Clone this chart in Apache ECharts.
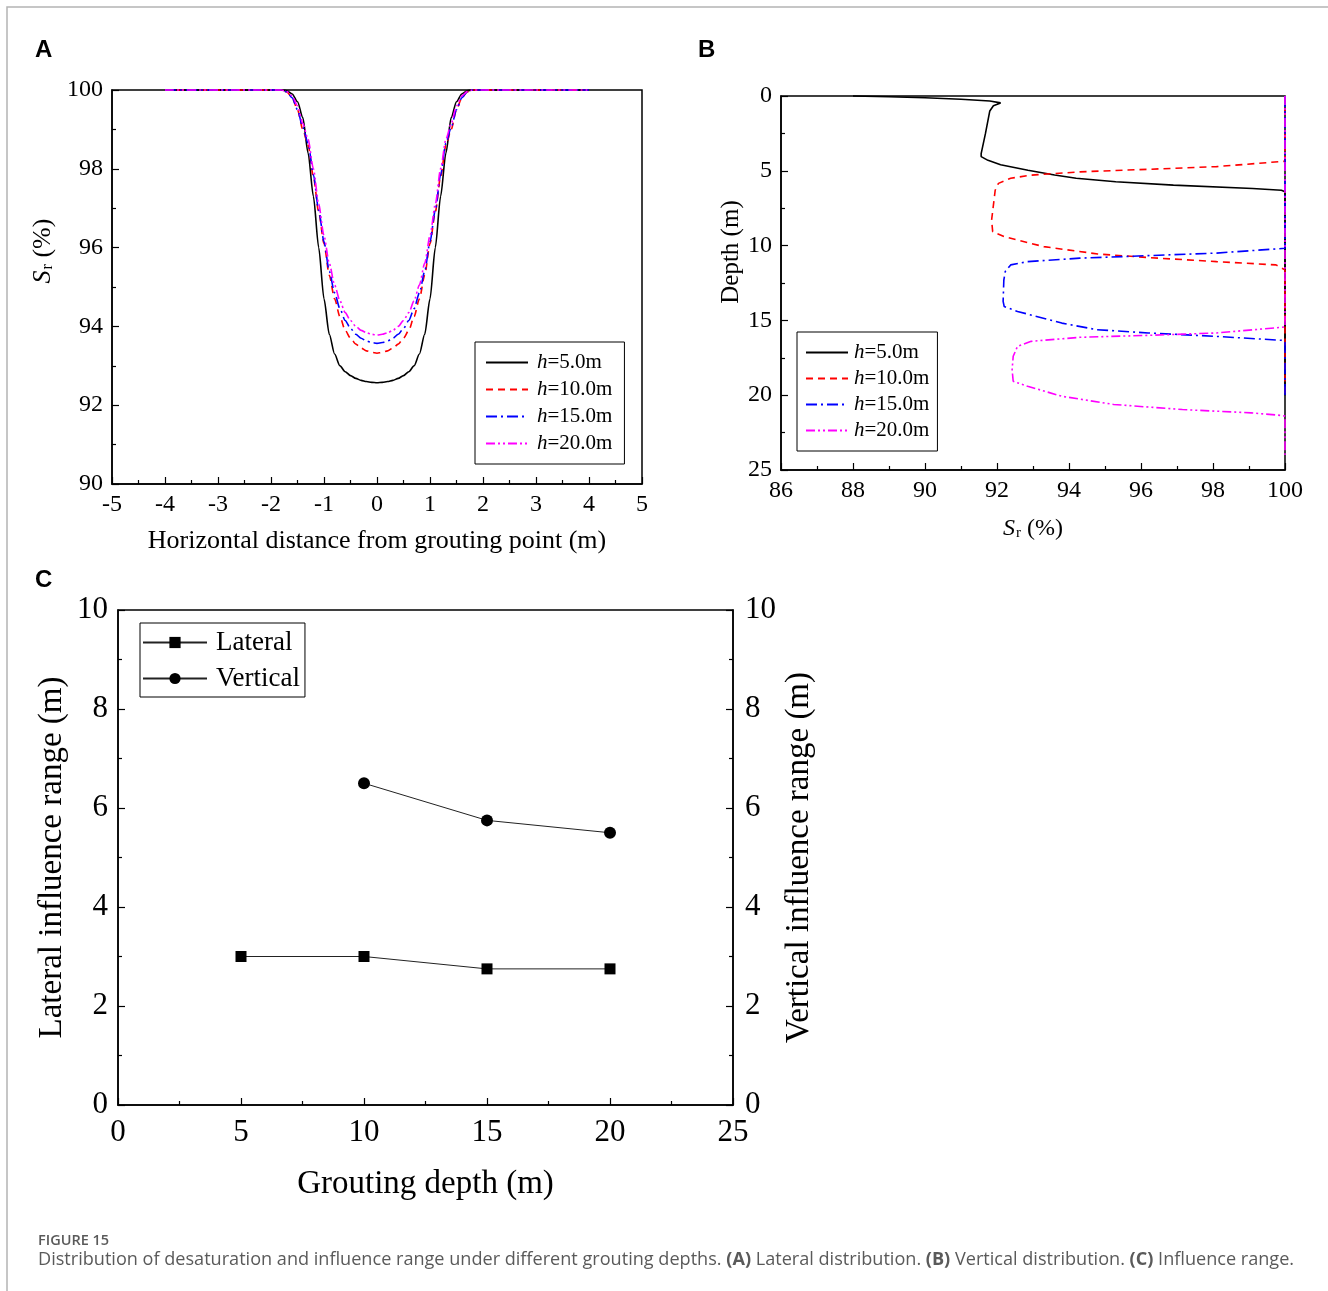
<!DOCTYPE html>
<html><head><meta charset="utf-8">
<script src="https://cdn.jsdelivr.net/npm/echarts@6/dist/echarts.min.js"></script>
<style>html,body{margin:0;padding:0;background:#fff}#c{width:1328px;height:1291px}</style>
</head><body><div id="c"></div>
<script>
// ---------- Panel A: lateral distribution ----------
const xA = [-4,-3,-2,-1.8,-1.7,-1.6,-1.5,-1.4,-1.3,-1.2,-1.1,-1.0,-0.9,-0.8,-0.7,-0.6,-0.5,-0.4,-0.3,-0.2,-0.1,0,
            0.1,0.2,0.3,0.4,0.5,0.6,0.7,0.8,0.9,1.0,1.1,1.2,1.3,1.4,1.5,1.6,1.7,1.8,2,3,4];
const srA_h5  = [100,100,100,100,99.98,99.9,99.7,99.3,98.4,97.3,96.0,94.7,93.8,93.3,93.0,92.85,92.75,92.68,92.63,92.6,92.58,92.57,
                 92.58,92.6,92.63,92.68,92.75,92.85,93.0,93.3,93.8,94.7,96.0,97.3,98.4,99.3,99.7,99.9,99.98,100,100,100,100];
const srA_h10 = [100,100,100,100,99.95,99.8,99.5,99.0,98.6,97.8,96.9,96.1,95.3,94.7,94.25,93.9,93.7,93.55,93.45,93.38,93.34,93.32,
                 93.34,93.38,93.45,93.55,93.7,93.9,94.25,94.7,95.3,96.1,96.9,97.8,98.6,99.0,99.5,99.8,99.95,100,100,100,100];
const srA_h15 = [100,100,100,100,99.95,99.8,99.5,99.05,98.65,97.85,96.95,96.15,95.4,94.85,94.45,94.15,93.95,93.8,93.7,93.63,93.59,93.57,
                 93.59,93.63,93.7,93.8,93.95,94.15,94.45,94.85,95.4,96.15,96.95,97.85,98.65,99.05,99.5,99.8,99.95,100,100,100,100];
const srA_h20 = [100,100,100,100,99.96,99.85,99.6,99.15,98.75,98.0,97.1,96.3,95.6,95.05,94.65,94.35,94.15,94.0,93.9,93.84,93.8,93.78,
                 93.8,93.84,93.9,94.0,94.15,94.35,94.65,95.05,95.6,96.3,97.1,98.0,98.75,99.15,99.6,99.85,99.96,100,100,100,100];

// ---------- Panel B: vertical distribution [Sr, depth] ----------
const profB_h5  = [[88,0],[89,0.05],[90,0.12],[91,0.22],[91.8,0.33],[92.1,0.46],[91.9,0.65],[91.8,1.0],[91.68,2.5],[91.56,3.85],
                   [91.56,4.05],[91.75,4.3],[92.1,4.6],[92.86,4.96],[93.6,5.28],[94.2,5.5],[95.3,5.73],[96.9,5.96],[99.1,6.18],
                   [99.9,6.3],[100,6.4],[100,20]];
const profB_h10 = [[100,0],[100,4.36],[98.1,4.72],[96.2,4.9],[94.3,5.07],[92.95,5.29],[92.38,5.5],[92.04,5.84],[91.95,6.3],
                   [91.85,8.3],[91.88,9.07],[92.2,9.4],[93.3,10.07],[94.8,10.56],[96.2,10.8],[98.1,11.07],[99.75,11.29],
                   [100,11.62],[100,20]];
const profB_h15 = [[100,0],[100,10.18],[98.1,10.5],[96.2,10.67],[94.3,10.84],[92.85,11.07],[92.38,11.29],[92.23,11.73],
                   [92.19,12.3],[92.17,13.73],[92.2,14.07],[92.57,14.4],[93.8,15.18],[94.77,15.62],[96.2,15.84],[98.1,16.07],
                   [99.9,16.33],[100,16.4],[100,20]];
const profB_h20 = [[100,0],[100,15.44],[98.1,15.84],[96.2,16.0],[94.3,16.13],[92.95,16.4],[92.57,16.73],[92.45,17.4],
                   [92.42,18.3],[92.45,19.07],[92.85,19.4],[93.8,20.07],[95.24,20.62],[97.15,20.96],[99.06,21.18],
                   [99.93,21.36],[100,21.4],[100,24]];

// ---------- Panel C: influence range ----------
const depthC    = [5, 10, 15, 20];
const lateralC  = [3, 3, 2.75, 2.75];
const verticalC = [null, 6.5, 5.75, 5.5];

const legendLabels = ['5.0m', '10.0m', '15.0m', '20.0m'];

// ---------- styling ----------
const SERIF = '"Liberation Serif","Times New Roman",serif';
const SANS = '"Liberation Sans",Arial,sans-serif';
const colors = ['#000000', '#ff0000', '#0000ff', '#ff00ff'];
const dashes = ['solid', [7, 5], [11, 4, 2, 4], [9, 3, 2, 3, 2, 3]];

function axis(o) {
  const fs = o.fs || 24;
  const nfs = o.nfs || fs;
  return Object.assign({
    type: 'value',
    axisLine: { show: true, onZero: false, lineStyle: { color: '#000', width: 1.5 } },
    axisTick: { show: true, inside: true, length: 7, lineStyle: { color: '#000', width: 1.2 } },
    minorTick: { show: true, splitNumber: 2, length: 4, lineStyle: { color: '#000', width: 1.2 } },
    splitLine: { show: false },
    axisLabel: { color: '#000', fontFamily: SERIF, fontSize: fs, margin: 9, showMinLabel: true, showMaxLabel: true },
    nameLocation: 'middle',
    nameTextStyle: {
      color: '#000', fontFamily: SERIF, fontSize: nfs, padding: o.npad || 0,
      rich: {
        n: { fontFamily: SERIF, fontSize: nfs, color: '#000' },
        i: { fontFamily: SERIF, fontSize: nfs, fontStyle: 'italic', color: '#000' },
        s: { fontFamily: SERIF, fontSize: Math.round(nfs * 0.62), color: '#000', padding: [10, 0, 0, 1] }
      }
    }
  }, o.extra);
}

const legendRich = (fs) => ({
  i: { fontFamily: SERIF, fontSize: fs, fontStyle: 'italic', color: '#000' },
  n: { fontFamily: SERIF, fontSize: fs, color: '#000' }
});

const seriesA = [srA_h5, srA_h10, srA_h15, srA_h20].map((arr, k) => ({
  name: 'A' + k, type: 'line', xAxisIndex: 0, yAxisIndex: 0,
  data: xA.map((x, j) => [x, arr[j]]),
  symbol: 'none', smooth: 0.25, smoothMonotone: 'x', clip: false,
  lineStyle: { color: colors[k], width: 1.6, type: dashes[k] },
  itemStyle: { color: colors[k] }
}));
const seriesB = [profB_h5, profB_h10, profB_h15, profB_h20].map((arr, k) => ({
  name: 'B' + k, type: 'line', xAxisIndex: 1, yAxisIndex: 1,
  data: arr, symbol: 'none', clip: false,
  lineStyle: { color: colors[k], width: 1.6, type: dashes[k] },
  itemStyle: { color: colors[k] }
}));
const seriesC = [
  { name: 'Lateral', type: 'line', xAxisIndex: 2, yAxisIndex: 2,
    data: depthC.map((d, j) => [d, lateralC[j]]),
    symbol: 'rect', symbolSize: 11, lineStyle: { color: '#222', width: 1 }, itemStyle: { color: '#000' } },
  { name: 'Vertical', type: 'line', xAxisIndex: 2, yAxisIndex: 3,
    data: depthC.map((d, j) => [d, verticalC[j]]).filter(p => p[1] !== null),
    symbol: 'circle', symbolSize: 12, lineStyle: { color: '#222', width: 1 }, itemStyle: { color: '#000' } }
];

const legendBase = (fs, tp) => ({
  orient: 'vertical', borderColor: '#000', borderWidth: 1, borderRadius: 0,
  backgroundColor: '#fff', itemWidth: 42, itemHeight: 14, selectedMode: false,
  itemStyle: { opacity: 0 },
  textStyle: { fontFamily: SERIF, fontSize: fs, color: '#000', padding: [0, 0, 0, tp], rich: legendRich(fs) },
  formatter: (name) => '{i|h}{n|=' + legendLabels[+name.slice(1)] + '}'
});

const option = {
  animation: false,
  backgroundColor: '#fff',
  grid: [
    { left: 112, top: 90, width: 530, height: 394, show: true, borderColor: '#000', borderWidth: 1.5, backgroundColor: 'transparent' },
    { left: 781, top: 96, width: 504, height: 374, show: true, borderColor: '#000', borderWidth: 1.5, backgroundColor: 'transparent' },
    { left: 118, top: 610, width: 615, height: 495, show: true, borderColor: '#000', borderWidth: 1.5, backgroundColor: 'transparent' }
  ],
  xAxis: [
    axis({ nfs: 26, extra: { gridIndex: 0, min: -5, max: 5, interval: 1, name: 'Horizontal distance from grouting point (m)', nameGap: 44 } }),
    axis({ extra: { gridIndex: 1, min: 86, max: 100, interval: 2, name: '{i|S}{s|r}{n| (%)}', nameGap: 46 } }),
    axis({ fs: 31, nfs: 33, extra: { gridIndex: 2, min: 0, max: 25, interval: 5, name: 'Grouting depth (m)', nameGap: 63,
      axisLabel: { color: '#000', fontFamily: SERIF, fontSize: 31, margin: 12 } } })
  ],
  yAxis: [
    axis({ nfs: 26, npad: [0, 0, 0, 72], extra: { gridIndex: 0, min: 90, max: 100, interval: 2, name: '{i|S}{s|r}{n| (%)}', nameGap: 56 } }),
    axis({ nfs: 25, npad: [0, 0, 0, 62], extra: { gridIndex: 1, min: 0, max: 25, interval: 5, inverse: true, name: 'Depth (m)', nameGap: 37 } }),
    axis({ fs: 31, nfs: 33, extra: { gridIndex: 2, min: 0, max: 10, interval: 2, name: 'Lateral influence range (m)', nameGap: 49,
      axisLabel: { color: '#000', fontFamily: SERIF, fontSize: 31, margin: 10 } } }),
    axis({ fs: 31, nfs: 33, extra: { gridIndex: 2, min: 0, max: 10, interval: 2, position: 'right', name: 'Vertical influence range (m)', nameGap: 50,
      axisLabel: { color: '#000', fontFamily: SERIF, fontSize: 31, margin: 12 } } })
  ],
  legend: [
    Object.assign(legendBase(21, 4), { left: 475, top: 342, padding: [10, 12, 10, 10], itemGap: 6, data: ['A0', 'A1', 'A2', 'A3'] }),
    Object.assign(legendBase(21, 1), { left: 797, top: 332, padding: [10, 8, 10, 8], itemGap: 5, data: ['B0', 'B1', 'B2', 'B3'] }),
    { orient: 'vertical', left: 140, top: 623, padding: [6, 5, 5, 2], itemGap: 9, itemWidth: 64, itemHeight: 14,
      borderColor: '#000', borderWidth: 1, borderRadius: 0, backgroundColor: '#fff', selectedMode: false,
      textStyle: { fontFamily: SERIF, fontSize: 27, color: '#000', padding: [0, 0, 0, 4] },
      data: ['Lateral', 'Vertical'] }
  ],
  series: seriesA.concat(seriesB, seriesC),
  graphic: [
    { type: 'polyline', shape: { points: [[7, 1291], [7, 7], [1328, 7]] }, style: { stroke: '#b4b4b4', lineWidth: 1.5, fill: null } },
    { type: 'text', left: 35, top: 38, style: { text: 'A', font: 'bold 24px ' + SANS, fill: '#000' } },
    { type: 'text', left: 698, top: 38, style: { text: 'B', font: 'bold 24px ' + SANS, fill: '#000' } },
    { type: 'text', left: 35, top: 568, style: { text: 'C', font: 'bold 24px ' + SANS, fill: '#000' } },
    { type: 'text', left: 38, top: 1233, style: { text: 'FIGURE 15', font: '600 14.5px "Open Sans","Noto Sans",sans-serif', fill: '#5a5a5a' } },
    { type: 'text', left: 38, top: 1251, style: {
      text: '{n|Distribution of desaturation and influence range under different grouting depths. }{b|(A)}{n| Lateral distribution. }{b|(B)}{n| Vertical distribution. }{b|(C)}{n| Influence range.}',
      rich: {
        n: { font: '18.1px "Open Sans","Noto Sans",sans-serif', fill: '#5a5a5a' },
        b: { font: 'bold 18.1px "Open Sans","Noto Sans",sans-serif', fill: '#5a5a5a' }
      } } }
  ]
};

const chart = echarts.init(document.getElementById('c'), null, { renderer: 'canvas' });
chart.setOption(option);
</script>
</body></html>
